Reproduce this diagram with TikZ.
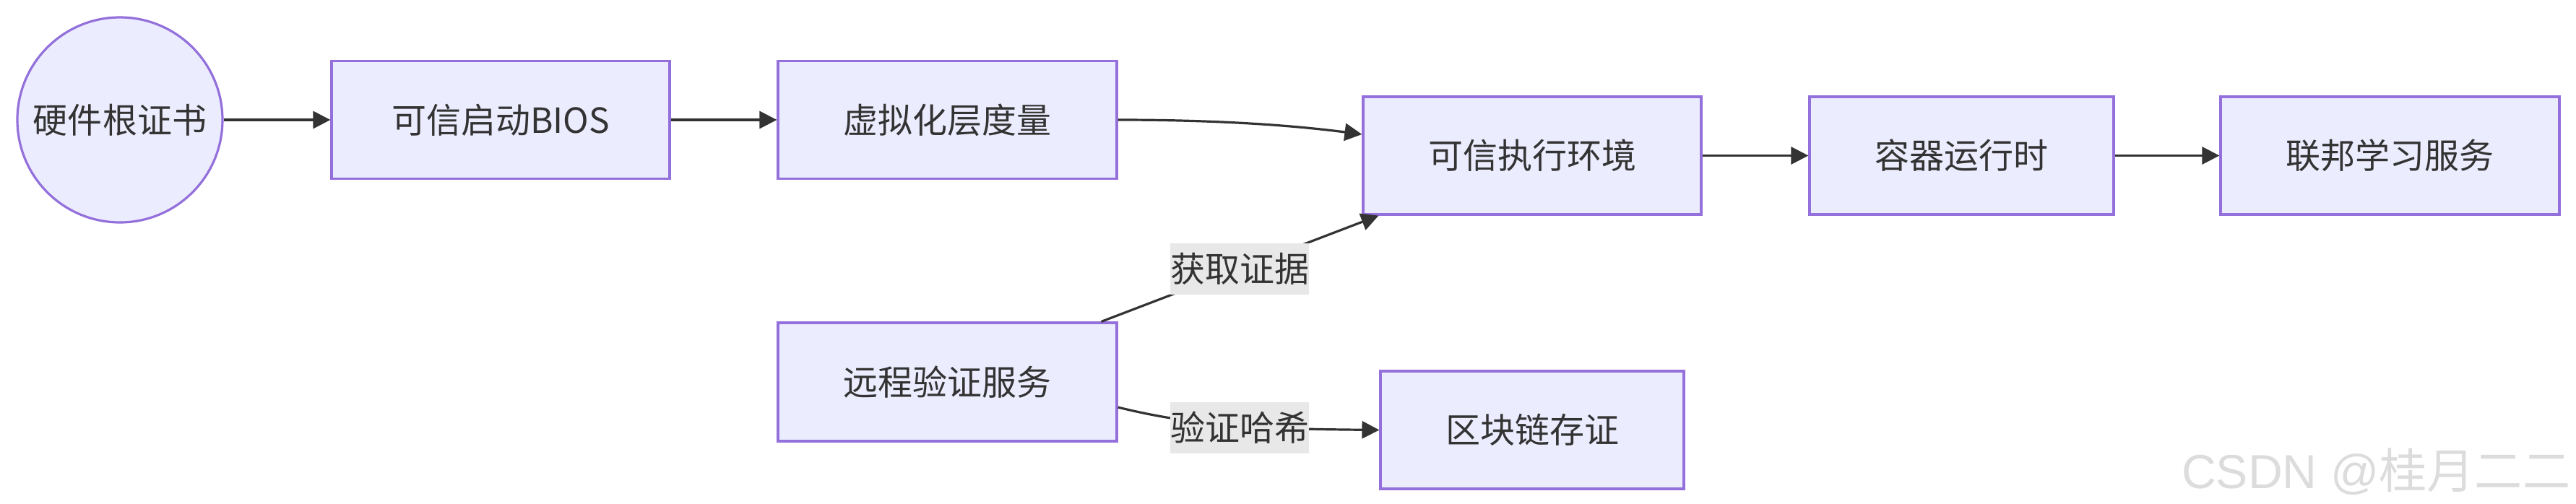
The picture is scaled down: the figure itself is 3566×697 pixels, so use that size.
\documentclass[tikz,border=0pt]{standalone}
\usepackage{fontspec}
\setmainfont{Noto Sans CJK SC}
\newfontfamily\wmlatin{Liberation Sans}
\usetikzlibrary{arrows.meta,calc}
\definecolor{boxfill}{HTML}{ECECFF}
\definecolor{boxline}{HTML}{9370DB}
\definecolor{edgecol}{HTML}{333333}
\definecolor{lblfill}{HTML}{E8E8E8}
\definecolor{wmcol}{HTML}{DCDCDC}
\tikzset{
  proc/.style={draw=boxline, fill=boxfill, line width=0.8pt, text=edgecol,
    font=\fontsize{12pt}{14pt}\selectfont, inner sep=0pt,
    minimum height=40.75pt},
  rootc/.style={proc, circle, minimum size=71pt},
  lbl/.style={fill=lblfill, text=edgecol, font=\fontsize{12pt}{14pt}\selectfont,
    inner sep=0pt, minimum width=48pt, minimum height=17.75pt},
  conn/.style={draw=edgecol, line width=0.8pt, -{Triangle[length=6pt,width=6pt]}}
}
\begin{document}
\begin{tikzpicture}[x=0.25pt, y=-0.25pt]
\useasboundingbox (0,0) rectangle (3566,697);
\node[rootc] (hw) at (166,166) {硬件根证书};
\node[proc, minimum width=117pt] (bios) at (693,166) {可信启动BIOS};
\node[proc, minimum width=117.25pt] (virt) at (1311.5,166) {虚拟化层度量};
\node[proc, minimum width=117pt] (tee) at (2121,215.5) {可信执行环境};
\node[proc, minimum width=105.25pt] (cont) at (2715.5,215.5) {容器运行时};
\node[proc, minimum width=117.25pt] (fl) at (3308.5,215.5) {联邦学习服务};
\node[proc, minimum width=117.25pt, minimum height=41pt] (ras) at (1311.5,529) {远程验证服务};
\node[proc, minimum width=105pt] (bc) at (2121,595.5) {区块链存证};

\draw[conn] (hw) -- (bios);
\draw[conn] (bios) -- (virt);
\draw[conn] (virt.east) .. controls (1700,166) and (1800,175) .. ($(tee.west)+(0,-29.5)$);
\draw[conn] (tee) -- (cont);
\draw[conn] (cont) -- (fl);
\draw[conn] ($(ras.north east)+(-23,0)$) -- ($(tee.south west)+(23,0)$);
\draw[conn] ($(ras.east)+(0,35)$) .. controls (1660,592) and (1760,594) .. (bc.west);
\node[lbl] (l1) at (1716,372) {获取证据};
\node[lbl] (l2) at (1716,592.5) {验证哈希};

\node[anchor=south east, inner sep=0pt, text=wmcol] (wm) at (3559,686)
  {\resizebox{134.5pt}{!}{\wmlatin CSDN @\rmfamily 桂月二二}};
\end{tikzpicture}
\end{document}
